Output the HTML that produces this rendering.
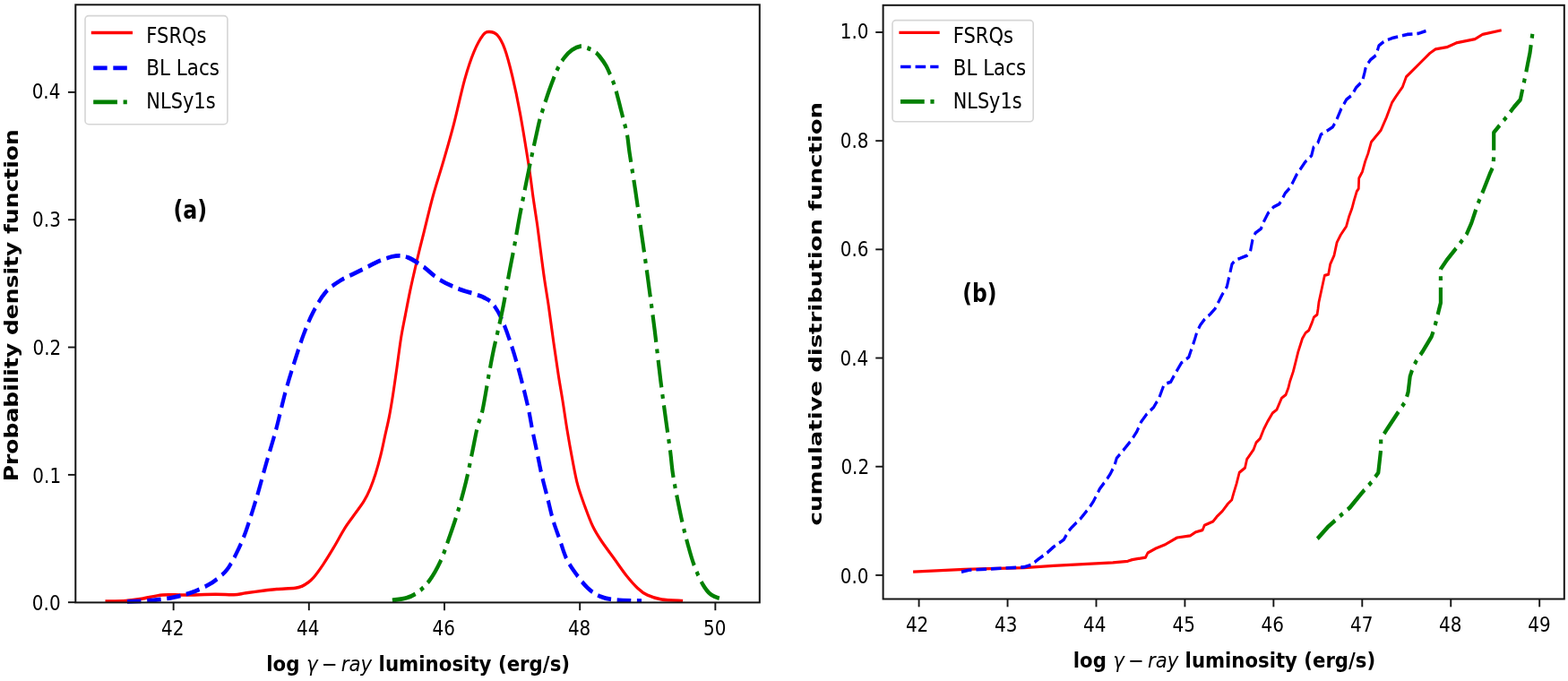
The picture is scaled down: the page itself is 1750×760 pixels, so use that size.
<!DOCTYPE html>
<html><head><meta charset="utf-8"><title>Luminosity distributions</title>
<style>html,body{margin:0;padding:0;background:#fff;width:1750px;height:760px;overflow:hidden}</style>
</head><body>
<svg xmlns="http://www.w3.org/2000/svg" width="1750" height="760" viewBox="0 0 1750 760" style="display:block;font-family:'DejaVu Sans','Liberation Sans',sans-serif">
<rect width="1750" height="760" fill="#fff"/>
<g transform="scale(0.87 1)">
<path d="M135.06 671 C139.43 670.9 153.51 670.85 161.26 670.4 C169.02 669.95 173.75 669.38 181.61 668.3 C189.46 667.22 199.2 664.62 208.39 663.9 C217.59 663.18 225.48 664.1 236.78 664 C248.08 663.9 265.69 663.33 276.21 663.3 C286.72 663.27 293.31 664.05 299.89 663.8 C306.46 663.55 309.06 662.6 315.63 661.8 C322.2 661 332.74 659.73 339.31 659 C345.88 658.27 348.49 657.87 355.06 657.4 C361.63 656.93 373.26 656.77 378.74 656.2 C384.21 655.63 385.31 654.95 387.93 654 C390.56 653.05 392.09 652.08 394.48 650.5 C396.88 648.92 398.98 647.88 402.3 644.5 C405.61 641.12 410.1 635.73 414.37 630.2 C418.64 624.67 423.33 618 427.93 611.3 C432.53 604.6 437.76 595.85 441.95 590 C446.15 584.15 448.98 581.27 453.1 576.2 C457.22 571.13 463.05 564.73 466.67 559.6 C470.29 554.47 472.32 550.52 474.83 545.4 C477.34 540.28 479.44 535.2 481.72 528.9 C484 522.6 486.48 514.7 488.51 507.6 C490.54 500.5 492.11 493.4 493.91 486.3 C495.71 479.2 497.62 472.55 499.31 465 C501 457.45 502.38 450.17 504.02 441 C505.67 431.83 507.45 420.67 509.2 410 C510.94 399.33 512.66 386.83 514.48 377 C516.3 367.17 518.22 359.58 520.11 351 C522.01 342.42 523.95 333.5 525.86 325.5 C527.78 317.5 529.71 310.23 531.61 303 C533.51 295.77 535.17 289.53 537.24 282.1 C539.31 274.67 541 268.92 544.02 258.4 C547.05 247.88 551.25 232.15 555.4 219 C559.56 205.85 564.58 192.67 568.97 179.5 C573.35 166.33 577.18 155.17 581.72 140 C586.26 124.83 591.82 102.22 596.21 88.5 C600.59 74.78 604.1 65.98 608.05 57.7 C611.99 49.42 616.61 42.52 619.89 38.8 C623.16 35.08 624.75 35.4 627.7 35.4 C630.65 35.4 634.31 35.67 637.59 38.8 C640.86 41.93 644.08 46.5 647.36 54.2 C650.63 61.9 653.95 73.02 657.24 85 C660.54 96.98 663.52 108.98 667.13 126.1 C670.73 143.22 676.05 172.05 678.85 187.7 C681.65 203.35 682.2 209.62 683.91 220 C685.61 230.38 687.72 241.67 689.08 250 C690.44 258.33 691.07 263.33 692.07 270 C693.07 276.67 694.04 283.33 695.06 290 C696.07 296.67 697.05 303.33 698.16 310 C699.27 316.67 700.75 324.5 701.72 330 C702.7 335.5 702.59 334.17 704.02 343 C705.46 351.83 708.3 370.43 710.34 383 C712.39 395.57 714.43 407.77 716.32 418.4 C718.22 429.03 719.85 436.53 721.72 446.8 C723.6 457.07 725.54 469.2 727.59 480 C729.64 490.8 731.78 501.42 734.02 511.6 C736.26 521.78 738.24 531.98 741.03 541.1 C743.83 550.22 747.57 558.58 750.8 566.3 C754.04 574.02 757.05 581.22 760.46 587.4 C763.87 593.58 766.53 597.18 771.26 603.4 C776 609.62 783.51 618.25 788.85 624.7 C794.2 631.15 798.49 636.83 803.33 642.1 C808.18 647.37 813.39 652.62 817.93 656.3 C822.47 659.98 825.44 662.1 830.57 664.2 C835.71 666.3 841.17 667.85 848.74 668.9 C856.3 669.95 871.44 670.23 875.98 670.5" fill="none" stroke="#ff0000" stroke-width="3.5" stroke-linejoin="round" stroke-linecap="butt"/>
<path d="M163.22 671.3 C168.77 671.08 186.46 670.83 196.55 670 C206.65 669.17 215.61 667.75 223.79 666.3 C231.97 664.85 238.37 663.57 245.63 661.3 C252.89 659.03 261.48 655.52 267.36 652.7 C273.24 649.88 276.84 647.35 280.92 644.4 C285 641.45 288.2 639.33 291.84 635 C295.48 630.67 299.12 624.72 302.76 618.4 C306.4 612.08 310.06 605.38 313.68 597.1 C317.3 588.82 321.32 577.38 324.48 568.7 C327.64 560.02 329.83 553.53 332.64 545 C335.46 536.47 337.78 528.5 341.38 517.5 C344.98 506.5 350.15 492.27 354.25 479 C358.35 465.73 362.05 450.45 365.98 437.9 C369.9 425.35 373.87 414.53 377.82 403.7 C381.76 392.87 385.73 382.02 389.66 372.9 C393.58 363.78 396.8 356.7 401.38 349 C405.96 341.3 411.23 332.7 417.13 326.7 C423.03 320.7 428.91 317.28 436.78 313 C444.66 308.72 455.84 304.7 464.37 301 C472.89 297.3 480.73 293.35 487.93 290.8 C495.13 288.25 501.69 286.27 507.59 285.7 C513.49 285.13 517.43 285.42 523.33 287.4 C529.23 289.38 536.44 293.62 542.99 297.6 C549.54 301.58 555.44 307.3 562.64 311.3 C569.85 315.3 578.35 318.75 586.21 321.6 C594.06 324.45 604.02 326.67 609.77 328.4 C615.52 330.13 616.97 330.23 620.69 332 C624.41 333.77 628.3 335.08 632.07 339 C635.84 342.92 639.56 348.37 643.33 355.5 C647.11 362.63 650.92 371.93 654.71 381.8 C658.51 391.67 662.32 402.63 666.09 414.7 C669.87 426.77 674.54 443.32 677.36 454.2 C680.17 465.08 681.03 471.48 682.99 480 C684.94 488.52 687.07 496.88 689.08 505.3 C691.09 513.72 692.84 522.08 695.06 530.5 C697.28 538.92 699.98 547.37 702.41 555.8 C704.85 564.23 707.05 573.38 709.66 581.1 C712.26 588.82 715.23 595.08 718.05 602.1 C720.86 609.12 723.12 616.88 726.55 623.2 C729.98 629.52 734.02 634.47 738.62 640 C743.22 645.53 748.83 652.1 754.14 656.4 C759.44 660.7 764.56 663.63 770.46 665.8 C776.36 667.97 780.79 668.6 789.54 669.4 C798.3 670.2 817.41 670.4 822.99 670.6" fill="none" stroke="#0000ff" stroke-width="4.8" stroke-dasharray="17.76 7.68" stroke-linejoin="round" stroke-linecap="butt"/>
<path d="M503.33 669.9 C506.36 669.47 516.05 668.78 521.49 667.3 C526.93 665.82 531.15 664.15 535.98 661 C540.8 657.85 545.61 654.18 550.46 648.4 C555.31 642.62 560.82 634.2 565.06 626.3 C569.29 618.4 572.24 609.95 575.86 601 C579.48 592.05 583.14 583.12 586.78 572.6 C590.42 562.08 594.54 549.17 597.7 537.9 C600.86 526.63 603.26 515.32 605.75 505 C608.24 494.68 610.44 483.83 612.64 476 C614.85 468.17 616.48 468 618.97 458 C621.46 448 625.19 427.33 627.59 416 C629.98 404.67 631.42 398 633.33 390 C635.25 382 636.97 376.33 639.08 368 C641.19 359.67 643.68 350.3 645.98 340 C648.28 329.7 650.57 317.03 652.87 306.2 C655.17 295.37 657.39 286.18 659.77 275 C662.15 263.82 663.95 253.65 667.13 239.1 C670.31 224.55 674.92 204.25 678.85 187.7 C682.78 171.15 687.93 150.25 690.69 139.8 C693.45 129.35 693.81 129.67 695.4 125 C696.99 120.33 698.66 115.97 700.23 111.8 C701.8 107.63 703.16 104.07 704.83 100 C706.49 95.93 708.43 91.35 710.23 87.4 C712.03 83.45 713.37 80.12 715.63 76.3 C717.89 72.48 720.77 67.92 723.79 64.5 C726.82 61.08 730.31 57.93 733.79 55.8 C737.28 53.67 741.38 52.07 744.71 51.7 C748.05 51.33 750.77 52.62 753.79 53.6 C756.82 54.58 760.31 56.03 762.87 57.6 C765.44 59.17 766.78 60.4 769.2 63 C771.61 65.6 775.08 69.8 777.36 73.2 C779.64 76.6 781.05 79.72 782.87 83.4 C784.69 87.08 786.63 90.95 788.28 95.3 C789.92 99.65 791.4 105.03 792.76 109.5 C794.12 113.97 795.21 117.9 796.44 122.1 C797.66 126.3 798.75 129.97 800.11 134.7 C801.48 139.43 803.35 144.53 804.6 150.5 C805.84 156.47 805.86 160.32 807.59 170.5 C809.31 180.68 812.51 197.38 814.94 211.6 C817.38 225.82 819.77 241.07 822.18 255.8 C824.6 270.53 827.72 289.42 829.43 300 C831.13 310.58 830.67 307.85 832.41 319.3 C834.16 330.75 837.38 351.15 839.89 368.7 C842.39 386.25 844.94 407.07 847.47 424.6 C850 442.13 853.01 460.83 855.06 473.9 C857.11 486.97 858.43 493.92 859.77 503 C861.11 512.08 861.65 519.82 863.1 528.4 C864.56 536.98 866.48 545.42 868.51 554.5 C870.54 563.58 873.03 574.22 875.29 582.9 C877.55 591.58 879.58 598.7 882.07 606.6 C884.56 614.5 887.05 622.8 890.23 630.3 C893.41 637.8 897.51 646.07 901.15 651.6 C904.79 657.13 907.38 660.5 912.07 663.5 C916.76 666.5 926.44 668.58 929.31 669.6" fill="none" stroke="#008000" stroke-width="4.8" stroke-dasharray="30.72 7.68 4.8 7.68" stroke-linejoin="round" stroke-linecap="butt"/>
</g>
<rect x="84.3" y="5.3" width="763.5" height="667.1" fill="none" stroke="#141414" stroke-width="2.0" stroke-linejoin="miter"/>
<line x1="193.64" y1="672.4" x2="193.64" y2="681.2" stroke="#141414" stroke-width="1.9"/>
<text transform="translate(179.95 708.8) scale(0.8500 1)" font-size="23.5" font-weight="normal">42</text>
<line x1="344.82" y1="672.4" x2="344.82" y2="681.2" stroke="#141414" stroke-width="1.9"/>
<text transform="translate(330.95 708.8) scale(0.8500 1)" font-size="23.5" font-weight="normal">44</text>
<line x1="496" y1="672.4" x2="496" y2="681.2" stroke="#141414" stroke-width="1.9"/>
<text transform="translate(482.44 708.8) scale(0.8500 1)" font-size="23.5" font-weight="normal">46</text>
<line x1="647.18" y1="672.4" x2="647.18" y2="681.2" stroke="#141414" stroke-width="1.9"/>
<text transform="translate(633.91 708.8) scale(0.8500 1)" font-size="23.5" font-weight="normal">48</text>
<line x1="798.36" y1="672.4" x2="798.36" y2="681.2" stroke="#141414" stroke-width="1.9"/>
<text transform="translate(785.01 708.8) scale(0.8500 1)" font-size="23.5" font-weight="normal">50</text>
<line x1="84.3" y1="672.2" x2="75.94" y2="672.2" stroke="#141414" stroke-width="1.9"/>
<text transform="translate(35.84 681.4) scale(0.8500 1)" font-size="23.5" font-weight="normal">0.0</text>
<line x1="84.3" y1="529.88" x2="75.94" y2="529.88" stroke="#141414" stroke-width="1.9"/>
<text transform="translate(36.34 538.55) scale(0.8500 1)" font-size="23.5" font-weight="normal">0.1</text>
<line x1="84.3" y1="387.55" x2="75.94" y2="387.55" stroke="#141414" stroke-width="1.9"/>
<text transform="translate(36.49 395.7) scale(0.8500 1)" font-size="23.5" font-weight="normal">0.2</text>
<line x1="84.3" y1="245.23" x2="75.94" y2="245.23" stroke="#141414" stroke-width="1.9"/>
<text transform="translate(36.09 252.85) scale(0.8500 1)" font-size="23.5" font-weight="normal">0.3</text>
<line x1="84.3" y1="102.9" x2="75.94" y2="102.9" stroke="#141414" stroke-width="1.9"/>
<text transform="translate(35.64 110) scale(0.8500 1)" font-size="23.5" font-weight="normal">0.4</text>
<rect x="95" y="17.6" width="158.9" height="121.1" rx="4" ry="4" fill="#fff" fill-opacity="0.8" stroke="#d5d5d5" stroke-width="1.6"/>
<g transform="scale(0.87 1)"><path d="M117.01 36.6 L170.11 36.6" stroke="#ff0000" stroke-width="3.5" stroke-linecap="butt" fill="none"/></g>
<text transform="translate(163.35 47.5) scale(0.8734 1)" font-size="24.1" font-weight="normal" font-style="normal" fill="#000">FSRQs</text>
<g transform="scale(0.87 1)"><path d="M119.77 75.9 L164.14 75.9" stroke="#0000ff" stroke-width="4.8" stroke-dasharray="17.76 7.68" stroke-linecap="butt" fill="none"/></g>
<text transform="translate(163.31 83.5) scale(0.8912 1)" font-size="24.1" font-weight="normal" font-style="normal" fill="#000">BL Lacs</text>
<g transform="scale(0.87 1)"><path d="M119.77 113.9 L164.14 113.9" stroke="#008000" stroke-width="4.8" stroke-dasharray="30.72 7.68 4.8 7.68" stroke-linecap="butt" fill="none"/></g>
<text transform="translate(163.36 121.4) scale(0.8691 1)" font-size="24.1" font-weight="normal" font-style="normal" fill="#000">NLSy1s</text>
<text transform="translate(193.48 244.1) scale(0.8537 1)" font-size="27.8" font-weight="bold" font-style="normal" fill="#000">(a)</text>
<text transform="translate(19.6 537.32) rotate(-90) scale(1.0012 0.8200)" font-size="25" font-weight="bold">Probability density function</text>
<text transform="translate(297.24 749.2) scale(0.9195 1)" font-size="23.2"><tspan x="0" font-weight="bold" font-style="normal">log</tspan><tspan x="48.57" font-weight="normal" font-style="oblique">γ</tspan><tspan x="66.82" font-weight="normal" font-style="normal">−</tspan><tspan x="90.78" font-weight="normal" font-style="oblique">ray</tspan><tspan x="136.35" font-weight="bold" font-style="normal">luminosity (erg/s)</tspan></text>
<g transform="scale(0.87 1)">
<path d="M1171.38 638.2 L1237.13 635.4 L1313.33 633.7 L1351.38 631.3 L1389.54 629.6 L1427.59 627.9 L1446.67 626.3 L1452.41 624.6 L1469.54 622.1 L1472.41 617 L1482.76 612 L1495.4 607.4 L1510 600 L1526.9 597.9 L1534.14 593.7 L1542.64 591.6 L1545.06 586.3 L1555.98 582.1 L1560.8 576.8 L1568.05 570.5 L1575.29 562.1 L1580.11 557.9 L1582.53 550.5 L1586.21 540 L1589.89 527.4 L1597.13 522.1 L1599.54 512.6 L1607.93 502.1 L1611.61 493.7 L1616.44 489.5 L1621.26 478.9 L1626.09 470.5 L1632.53 460.9 L1637.82 457.2 L1644.14 444.3 L1649.43 440.6 L1652.64 433.2 L1654.71 425.9 L1658.97 414.8 L1662.18 403.7 L1665.29 392.7 L1670.69 377.9 L1674.83 371.5 L1679.08 368.7 L1683.33 359.5 L1685.52 354 L1689.66 351.2 L1690.8 344.7 L1691.84 337.4 L1699.31 307.4 L1704.14 306.3 L1706.55 294.7 L1711.38 285.3 L1715.06 270.5 L1719.89 262.1 L1727.13 252.6 L1730.8 241.1 L1734.37 232.6 L1736.9 224.2 L1740.46 213.7 L1742.87 210.5 L1743.33 198.9 L1747.7 191.6 L1751.38 180 L1754.94 171.5 L1759.2 158.3 L1771.26 145.7 L1778.62 131 L1785.86 114.2 L1790.69 107.8 L1799.08 97.3 L1803.91 85.8 L1810 80.5 L1824.48 67.9 L1834.14 59.5 L1841.49 54.8 L1855.98 52.7 L1868.05 47.9 L1892.18 43.7 L1901.95 38.4 L1926.09 33.8" fill="none" stroke="#ff0000" stroke-width="3.2" stroke-linejoin="round" stroke-linecap="butt"/>
<path d="M1233.33 638.2 L1242.87 636.2 L1313.33 632.9 L1322.87 630.4 L1332.41 623.8 L1341.84 618 L1351.38 610.5 L1364.71 602.3 L1370.46 593.1 L1375.4 588.1 L1386.21 578.7 L1397.13 566.8 L1402.64 559.7 L1410.8 545.5 L1418.97 536 L1424.37 528.9 L1429.77 519.5 L1432.53 511.2 L1440.69 502.9 L1451.61 491 L1458.39 481.6 L1463.79 470.9 L1470.69 462.6 L1480.11 454.3 L1487.01 444 L1493.33 429 L1501.84 426.2 L1508.16 416 L1515.52 405 L1525.06 398.5 L1528.28 390.2 L1532.53 379.2 L1535.63 370 L1539.89 362.6 L1546.21 355.2 L1552.64 350.6 L1558.97 344.2 L1563.22 336.8 L1567.47 329.5 L1573.91 320 L1576.78 309 L1580.46 294.7 L1584.94 290 L1590.46 288.4 L1599.54 285.3 L1604.02 280.5 L1606.78 267.9 L1610.46 260 L1617.7 255.3 L1621.26 247.4 L1626.78 237.9 L1634.02 230.8 L1641.26 227.6 L1645.75 220.5 L1648.51 215.8 L1655.17 209.2 L1663.33 195 L1674.25 180.8 L1682.41 173.7 L1685.17 164.2 L1690.57 159.5 L1694.6 150 L1701.49 146.5 L1709.66 141.7 L1713.68 135.8 L1720.46 121.6 L1727.36 110.9 L1734.14 106.2 L1739.54 97.9 L1747.7 90.8 L1750.46 81.3 L1752.3 74.2 L1758.05 66.8 L1765.29 61.6 L1768.85 51 L1776.09 45.8 L1785.86 42.6 L1805.17 38.4 L1819.66 37.4 L1829.31 34.5" fill="none" stroke="#0000ff" stroke-width="3.6" stroke-dasharray="13.32 5.76" stroke-linejoin="round" stroke-linecap="butt"/>
<path d="M1690 601.3 L1703.33 588.2 L1719.89 575.2 L1731.61 566.5 L1746.55 550.6 L1759.89 537.6 L1768.16 527.4 L1771.49 501.4 L1771.49 489.8 L1779.89 478.2 L1793.1 460.8 L1803.1 447.8 L1806.44 437.6 L1808.85 420 L1812.64 410 L1816.67 403.1 L1824.6 392.8 L1836.44 375.7 L1840.34 365.4 L1844.25 351.7 L1848.16 338 L1848.16 300.4 L1856.09 290.1 L1871.84 273 L1881.61 261 L1887.59 249 L1895.4 228.5 L1903.33 211.4 L1911.15 194.2 L1915.52 185.8 L1916.32 174 L1916.32 147.9 L1934.02 129 L1942.18 119.5 L1950.34 111.2 L1957.24 82.8 L1959.89 70.9 L1962.64 59.1 L1966.44 34.3" fill="none" stroke="#008000" stroke-width="4.8" stroke-dasharray="30.72 7.68 4.8 7.68" stroke-linejoin="round" stroke-linecap="butt"/>
</g>
<rect x="985.6" y="5.8" width="760.2" height="662.7" fill="none" stroke="#141414" stroke-width="2.0" stroke-linejoin="miter"/>
<line x1="1025.6" y1="668.5" x2="1025.6" y2="677.3" stroke="#141414" stroke-width="1.9"/>
<text transform="translate(1010.89 704.9) scale(0.8500 1)" font-size="23.5" font-weight="normal">42</text>
<line x1="1124.54" y1="668.5" x2="1124.54" y2="677.3" stroke="#141414" stroke-width="1.9"/>
<text transform="translate(1109.93 704.9) scale(0.8500 1)" font-size="23.5" font-weight="normal">43</text>
<line x1="1223.48" y1="668.5" x2="1223.48" y2="677.3" stroke="#141414" stroke-width="1.9"/>
<text transform="translate(1208.95 704.9) scale(0.8500 1)" font-size="23.5" font-weight="normal">44</text>
<line x1="1322.42" y1="668.5" x2="1322.42" y2="677.3" stroke="#141414" stroke-width="1.9"/>
<text transform="translate(1308.49 704.9) scale(0.8500 1)" font-size="23.5" font-weight="normal">45</text>
<line x1="1421.36" y1="668.5" x2="1421.36" y2="677.3" stroke="#141414" stroke-width="1.9"/>
<text transform="translate(1407.5 704.9) scale(0.8500 1)" font-size="23.5" font-weight="normal">46</text>
<line x1="1520.3" y1="668.5" x2="1520.3" y2="677.3" stroke="#141414" stroke-width="1.9"/>
<text transform="translate(1506.97 704.9) scale(0.8500 1)" font-size="23.5" font-weight="normal">47</text>
<line x1="1619.24" y1="668.5" x2="1619.24" y2="677.3" stroke="#141414" stroke-width="1.9"/>
<text transform="translate(1606.03 704.9) scale(0.8500 1)" font-size="23.5" font-weight="normal">48</text>
<line x1="1718.18" y1="668.5" x2="1718.18" y2="677.3" stroke="#141414" stroke-width="1.9"/>
<text transform="translate(1705.3 704.9) scale(0.8500 1)" font-size="23.5" font-weight="normal">49</text>
<line x1="985.6" y1="641.9" x2="977.24" y2="641.9" stroke="#141414" stroke-width="1.9"/>
<text transform="translate(937.74 650.85) scale(0.8500 1)" font-size="23.5" font-weight="normal">0.0</text>
<line x1="985.6" y1="520.72" x2="977.24" y2="520.72" stroke="#141414" stroke-width="1.9"/>
<text transform="translate(938.39 529.33) scale(0.8500 1)" font-size="23.5" font-weight="normal">0.2</text>
<line x1="985.6" y1="399.54" x2="977.24" y2="399.54" stroke="#141414" stroke-width="1.9"/>
<text transform="translate(937.54 407.81) scale(0.8500 1)" font-size="23.5" font-weight="normal">0.4</text>
<line x1="985.6" y1="278.36" x2="977.24" y2="278.36" stroke="#141414" stroke-width="1.9"/>
<text transform="translate(937.69 286.29) scale(0.8500 1)" font-size="23.5" font-weight="normal">0.6</text>
<line x1="985.6" y1="157.18" x2="977.24" y2="157.18" stroke="#141414" stroke-width="1.9"/>
<text transform="translate(937.79 164.77) scale(0.8500 1)" font-size="23.5" font-weight="normal">0.8</text>
<line x1="985.6" y1="36" x2="977.24" y2="36" stroke="#141414" stroke-width="1.9"/>
<text transform="translate(937.74 43.25) scale(0.8500 1)" font-size="23.5" font-weight="normal">1.0</text>
<rect x="996" y="22.6" width="157.2" height="113.2" rx="4" ry="4" fill="#fff" fill-opacity="0.8" stroke="#d5d5d5" stroke-width="1.6"/>
<g transform="scale(0.87 1)"><path d="M1153.33 36.4 L1205.4 36.4" stroke="#ff0000" stroke-width="3.2" stroke-linecap="butt" fill="none"/></g>
<text transform="translate(1063.74 47.9) scale(0.8748 1)" font-size="24.1" font-weight="normal" font-style="normal" fill="#000">FSRQs</text>
<g transform="scale(0.87 1)"><path d="M1155.17 74.5 L1204.02 74.5" stroke="#0000ff" stroke-width="3.6" stroke-dasharray="13.32 5.76" stroke-linecap="butt" fill="none"/></g>
<text transform="translate(1063.71 83.7) scale(0.8889 1)" font-size="24.1" font-weight="normal" font-style="normal" fill="#000">BL Lacs</text>
<g transform="scale(0.87 1)"><path d="M1155.17 113.3 L1204.02 113.3" stroke="#008000" stroke-width="4.8" stroke-dasharray="30.72 7.68 4.8 7.68" stroke-linecap="butt" fill="none"/></g>
<text transform="translate(1063.77 121.4) scale(0.8633 1)" font-size="24.1" font-weight="normal" font-style="normal" fill="#000">NLSy1s</text>
<text transform="translate(1074.3 336.8) scale(0.8451 1)" font-size="27.8" font-weight="bold" font-style="normal" fill="#000">(b)</text>
<text transform="translate(917.2 586.4) rotate(-90) scale(0.9998 0.7700)" font-size="25.96" font-weight="bold">cumulative distribution function</text>
<text transform="translate(1197.85 745.4) scale(0.9151 1)" font-size="23.2"><tspan x="0" font-weight="bold" font-style="normal">log</tspan><tspan x="48.57" font-weight="normal" font-style="oblique">γ</tspan><tspan x="66.82" font-weight="normal" font-style="normal">−</tspan><tspan x="90.78" font-weight="normal" font-style="oblique">ray</tspan><tspan x="136.35" font-weight="bold" font-style="normal">luminosity (erg/s)</tspan></text>
</svg>
</body></html>
